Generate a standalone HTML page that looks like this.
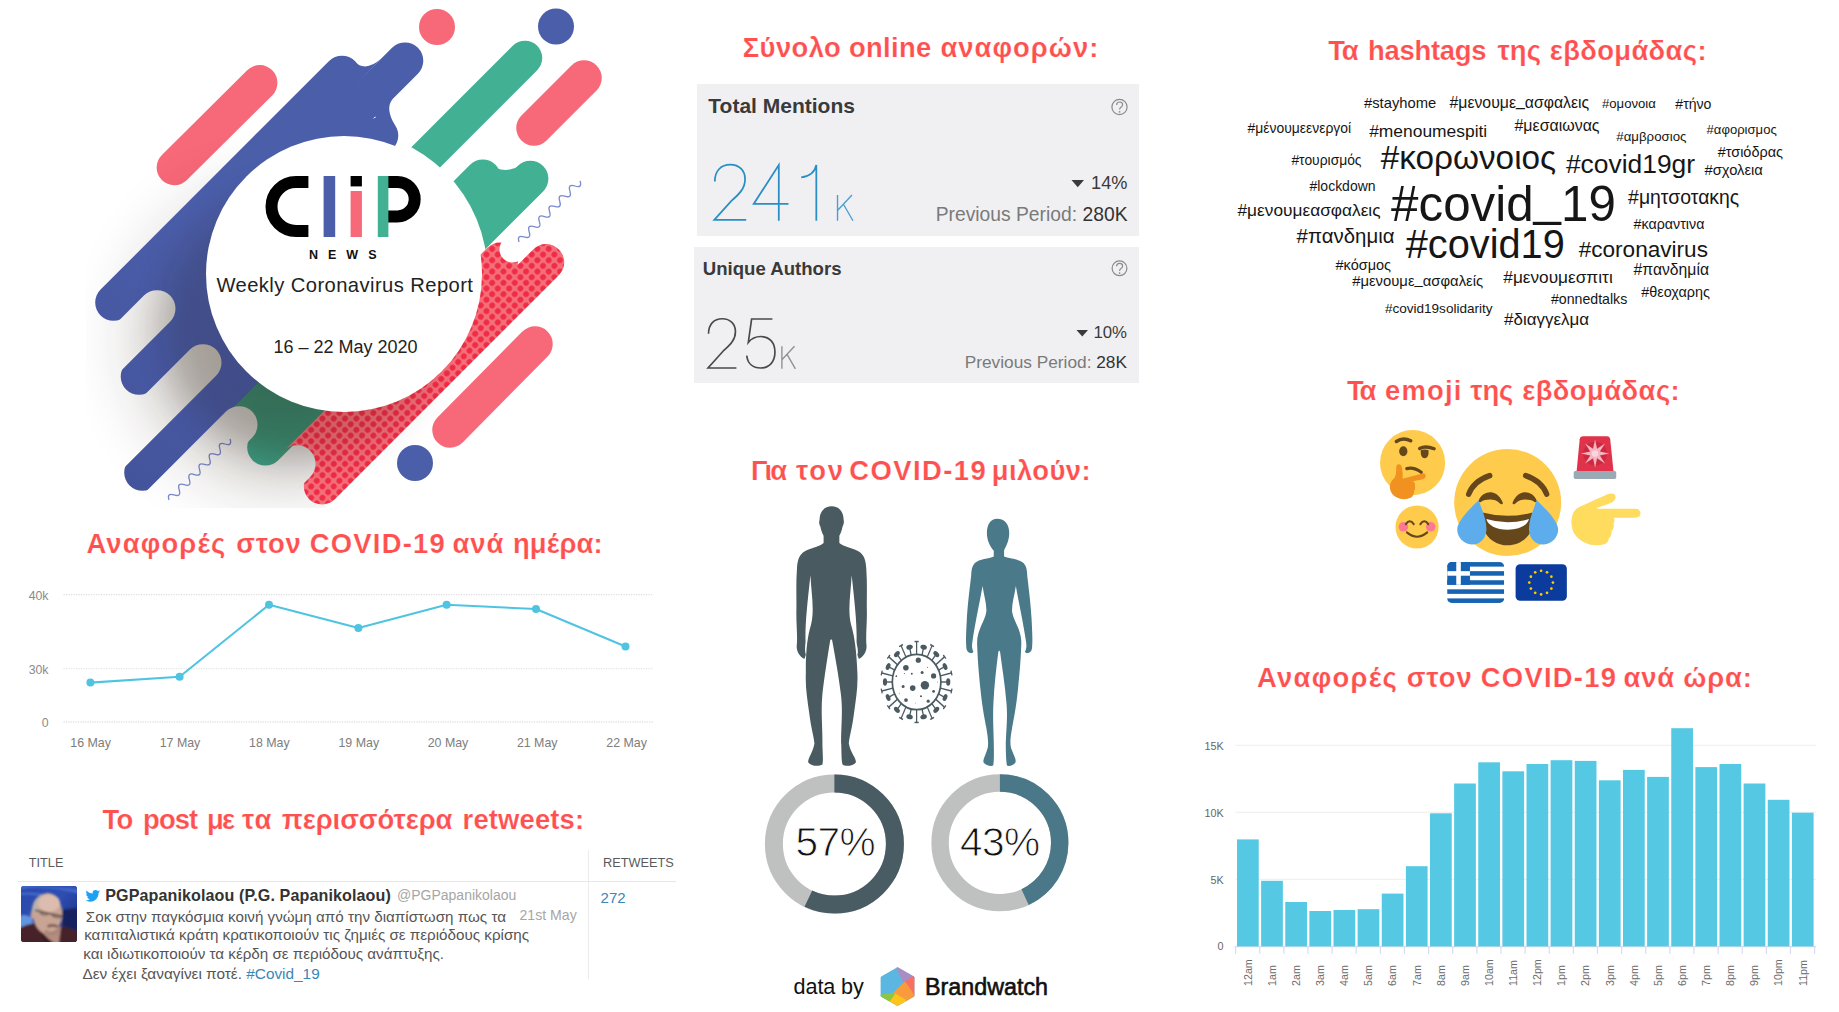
<!DOCTYPE html>
<html lang="el">
<head>
<meta charset="utf-8">
<title>CLiP News – Weekly Coronavirus Report</title>
<style>
html,body{margin:0;padding:0;background:#fff;height:100%;}
body{width:1839px;height:1012px;overflow:hidden;font-family:"Liberation Sans",sans-serif;}
#page{position:absolute;left:0;top:0;width:1839px;height:1012px;overflow:hidden;background:#fff;}
#page *{box-sizing:border-box;}
.abs{position:absolute;}
.hd{position:absolute;white-space:nowrap;font-weight:bold;color:#ff5050;-webkit-text-stroke:0.18px #fff;font-size:27.4px;line-height:31px;}
.tg{position:absolute;white-space:nowrap;color:#161616;line-height:1.149;}
.tw{font-size:15.2px;line-height:18px;color:#555;white-space:nowrap;}
.pct{font-size:40.6px;line-height:46px;color:#111;white-space:nowrap;letter-spacing:-0.6px;-webkit-text-stroke:0.9px #fff;}
svg{position:absolute;left:0;top:0;overflow:visible;}
svg text{font-family:"Liberation Sans",sans-serif;}
</style>
</head>
<body>
<div id="page">
<svg id="art" width="700" height="520" viewBox="0 0 700 520">
<defs>
<pattern id="dots" width="8" height="8" patternUnits="userSpaceOnUse" patternTransform="rotate(45)">
<rect width="8" height="8" fill="#f56f7a"/>
<circle cx="4" cy="4" r="2.9" fill="#ef2b45"/>
</pattern>
<filter id="blur12" x="-30%" y="-30%" width="160%" height="160%"><feGaussianBlur stdDeviation="15"/></filter>
<filter id="blur45" filterUnits="userSpaceOnUse" x="-100" y="-100" width="900" height="800"><feGaussianBlur stdDeviation="38"/></filter>
<filter id="blur6b" filterUnits="userSpaceOnUse" x="0" y="0" width="700" height="700"><feGaussianBlur stdDeviation="16"/></filter>
<filter id="blur6" x="-30%" y="-30%" width="160%" height="160%"><feGaussianBlur stdDeviation="7"/></filter>
<linearGradient id="bl" gradientUnits="userSpaceOnUse" x1="120" y1="480" x2="420" y2="60"><stop offset="0" stop-color="#44549c"/><stop offset="0.5" stop-color="#4b5eaa"/><stop offset="1" stop-color="#4b5eaa"/></linearGradient>
<linearGradient id="gapg" gradientUnits="userSpaceOnUse" x1="110" y1="400" x2="200" y2="310"><stop offset="0" stop-color="#ffffff"/><stop offset="1" stop-color="#cfc9c2"/></linearGradient>
<g id="bluebody" stroke-width="36.6" stroke-linecap="round" fill="none">
<path d="M113.5 302.5 L342 74"/>
<path d="M150 315.7 L405 60.7"/>
<path d="M139 376.5 L380 135.5"/>
<path d="M196 369.7 L375 190.3"/>
<path d="M142.5 472.5 L395 220"/>
</g>
<mask id="gapmask" maskUnits="userSpaceOnUse" x="0" y="0" width="700" height="520">
<rect x="0" y="0" width="700" height="520" fill="#fff"/>
<g stroke="#000" stroke-width="37" stroke-linecap="round" fill="none">
<path d="M157 308.7 L60 405.7"/>
<path d="M203 362.7 L100 465.7"/>
<path d="M239 424.7 L140 523.7"/>
</g>
</mask>
<radialGradient id="rsh" gradientUnits="userSpaceOnUse" cx="310" cy="310" r="262">
<stop offset="0" stop-color="#140c02" stop-opacity="0.38"/>
<stop offset="0.34" stop-color="#140c02" stop-opacity="0.36"/>
<stop offset="0.41" stop-color="#140c02" stop-opacity="0.27"/>
<stop offset="0.54" stop-color="#140c02" stop-opacity="0.14"/>
<stop offset="0.72" stop-color="#140c02" stop-opacity="0.08"/>
<stop offset="0.88" stop-color="#140c02" stop-opacity="0.035"/>
<stop offset="1" stop-color="#140c02" stop-opacity="0"/>
</radialGradient>
<mask id="redmask" maskUnits="userSpaceOnUse" x="0" y="0" width="700" height="520">
<rect x="0" y="0" width="700" height="520" fill="#fff"/>
<path d="M297 463.8 L200 560.8" stroke="#000" stroke-width="37.2" stroke-linecap="round" fill="none"/>
</mask>
<clipPath id="shclip"><path d="M0 0 L832 0 L0 832 Z"/></clipPath>
<clipPath id="artclip"><rect x="86" y="0" width="614" height="508"/></clipPath>
</defs>
<g clip-path="url(#artclip)">
<!-- pink pills and dots -->
<g stroke="#f76878" stroke-width="35.5" stroke-linecap="round" fill="none">
<path d="M174.4 167.5 L259.7 82.8"/>
<path d="M534 128 L584 78"/>
<path d="M450 430 L535 344"/>
</g>
<circle cx="437" cy="27" r="18" fill="#f76878"/>
<circle cx="556" cy="26.5" r="18" fill="#4b5eaa"/>
<circle cx="415" cy="463" r="18" fill="#4b5eaa"/>
<!-- green (upper right) -->
<g stroke="#41b093" stroke-width="34.5" stroke-linecap="round" fill="none">
<path d="M525 58 L400 183"/>
</g>
<g stroke="#41b093" stroke-width="36" stroke-linecap="round" fill="none">
<path d="M482.8 177.4 L300 360.2"/>
<path d="M530.4 178.7 L300 409.1"/>
</g>
<path d="M487 163 Q504 176 521 165 L507 194 L492 189Z" fill="#41b093"/>
<!-- gap ring -->
<circle cx="344" cy="274" r="143.5" fill="#fff"/>
<!-- green lower -->
<g mask="url(#gapmask)">
<g stroke="#41b093" stroke-width="36.4" stroke-linecap="round" fill="none">
<path d="M265.4 447.4 L380 332.8"/>
<path d="M232 431.7 L380 284.3"/>
</g>
</g>
<!-- squiggle BL -->
<g fill="none" stroke="#7c8bd0" stroke-width="1.3">
<path d="M0 0 q3.6 -7 7.2 0 t7.2 0 t7.2 0 t7.2 0 t7.2 0 t7.2 0 t7.2 0 t7.2 0 t7.2 0 t7.2 0 t7.2 0 t7.2 0" transform="translate(169,500) rotate(-45)"/>
</g>
<!-- shadow -->
<g clip-path="url(#shclip)"><circle cx="284" cy="338" r="138" fill="#2a1c0c" opacity="0.31" filter="url(#blur45)"/></g>
<!-- red dotted -->
<g mask="url(#redmask)">
<g stroke="url(#dots)" stroke-width="36.4" stroke-linecap="round" fill="none">
<path d="M322 486.3 L546 262.3"/>
<path d="M285 475.8 L500 260.8"/>
</g>
</g>
<!-- red notch TR -->
<g stroke="#fff" stroke-width="26" stroke-linecap="round" fill="none">
<path d="M512.5 249.5 L540 222"/>
</g>
<!-- squiggle TR -->
<g fill="none" stroke="#7c8bd0" stroke-width="1.3">
<path d="M0 0 q3.6 -7 7.2 0 t7.2 0 t7.2 0 t7.2 0 t7.2 0 t7.2 0 t7.2 0 t7.2 0 t7.2 0 t7.2 0 t7.2 0 t7.2 0" transform="translate(519,242) rotate(-45)"/>
</g>
<!-- blue body -->
<g mask="url(#gapmask)"><use href="#bluebody" stroke="url(#bl)"/>
<path d="M352 58.7 Q364 74 381 58.8 L358.6 82 Z" fill="#4b5eaa"/>
<path d="M392.6 99 Q385 108 394.5 124.5 L380 130 L374 113 Z" fill="#4b5eaa"/>
</g>
<circle cx="300" cy="322" r="138" fill="#1a1006" opacity="0.16" filter="url(#blur6b)"/>
<!-- main circle shadow + circle -->
<circle cx="344" cy="274" r="138" fill="#fff"/>
</g>
<!-- logo -->
<g fill="none" stroke="#000" stroke-width="12">
<path d="M308.4 182 H296 A24.5 24.5 0 0 0 296 231 H308.4"/>
<path d="M388 182 H397.5 A17.2 17.2 0 0 1 397.5 216.4 H388"/>
</g>
<rect x="323.6" y="176" width="11.6" height="61" fill="#4b5eaa"/>
<rect x="350.6" y="176" width="11.3" height="10.4" fill="#000"/>
<rect x="350.6" y="191" width="11.3" height="46" fill="#f76878"/>
<rect x="377.8" y="176" width="10.6" height="61" fill="#41b093"/>
<text x="309" y="259" font-size="12.5" font-weight="bold" letter-spacing="10" fill="#111">NEWS</text>
<text x="216.4" y="292" font-size="20.2" letter-spacing="0.42" fill="#222">Weekly Coronavirus Report</text>
<text x="273.4" y="353" font-size="18" letter-spacing="0" fill="#222">16 – 22 May 2020</text>
</svg>
<span class="hd" style="left:742.7px;top:31.6px;letter-spacing:0.42px">Σύνολο</span>
<span class="hd" style="left:848.9px;top:31.6px;letter-spacing:0.36px">online</span>
<span class="hd" style="left:940.4px;top:31.6px;letter-spacing:1.03px">αναφορών:</span>
<span class="hd" style="left:1328.3px;top:35.2px;letter-spacing:-1.25px">Τα</span>
<span class="hd" style="left:1368.1px;top:35.2px;letter-spacing:-0.27px">hashtags</span>
<span class="hd" style="left:1497.6px;top:35.2px;letter-spacing:0.04px">της</span>
<span class="hd" style="left:1549.8px;top:35.2px;letter-spacing:0.36px">εβδομάδας:</span>
<span class="hd" style="left:86.4px;top:527.7px;letter-spacing:1.16px">Αναφορές</span>
<span class="hd" style="left:236.3px;top:527.7px;letter-spacing:0.77px">στον</span>
<span class="hd" style="left:309.7px;top:527.7px;letter-spacing:1.26px">COVID-19</span>
<span class="hd" style="left:452.4px;top:527.7px;letter-spacing:1.03px">ανά</span>
<span class="hd" style="left:512.9px;top:527.7px;letter-spacing:0.22px">ημέρα:</span>
<span class="hd" style="left:750.9px;top:455.1px;letter-spacing:-1.87px">Για</span>
<span class="hd" style="left:796.0px;top:455.1px;letter-spacing:1.78px">τον</span>
<span class="hd" style="left:849.2px;top:455.1px;letter-spacing:1.47px">COVID-19</span>
<span class="hd" style="left:991.7px;top:455.1px;letter-spacing:0.43px">μιλούν:</span>
<span class="hd" style="left:1346.9px;top:375.1px;letter-spacing:-2.15px">Τα</span>
<span class="hd" style="left:1385.1px;top:375.1px;letter-spacing:1.21px">emoji</span>
<span class="hd" style="left:1470.2px;top:375.1px;letter-spacing:-0.01px">της</span>
<span class="hd" style="left:1522.2px;top:375.1px;letter-spacing:0.45px">εβδομάδας:</span>
<span class="hd" style="left:1257.0px;top:662.1px;letter-spacing:1.29px">Αναφορές</span>
<span class="hd" style="left:1406.7px;top:662.1px;letter-spacing:0.94px">στον</span>
<span class="hd" style="left:1480.8px;top:662.1px;letter-spacing:1.25px">COVID-19</span>
<span class="hd" style="left:1623.6px;top:662.1px;letter-spacing:0.78px">ανά</span>
<span class="hd" style="left:1683.2px;top:662.1px;letter-spacing:0.84px">ώρα:</span>
<span class="hd" style="left:102.4px;top:804.4px;letter-spacing:-0.64px">Το</span>
<span class="hd" style="left:143.1px;top:804.4px;letter-spacing:-0.91px">post</span>
<span class="hd" style="left:207.0px;top:804.4px;letter-spacing:-1.87px">με</span>
<span class="hd" style="left:242.1px;top:804.4px;letter-spacing:0.89px">τα</span>
<span class="hd" style="left:281.8px;top:804.4px;letter-spacing:-0.04px">περισσότερα</span>
<span class="hd" style="left:462.6px;top:804.4px;letter-spacing:0.16px">retweets:</span>
<div class="abs" style="left:697px;top:84.3px;width:441.7px;height:151.3px;background:#f0f0f2;"></div>
<div class="abs" style="left:694.3px;top:246.5px;width:444.5px;height:136.8px;background:#f0f0f2;"></div>
<div class="abs" style="left:708.3px;top:94px;font-size:21px;line-height:24px;font-weight:bold;color:#3a3a3a;white-space:nowrap;">Total Mentions</div>
<div class="abs" style="left:702.8px;top:257.5px;font-size:18.6px;line-height:22px;font-weight:bold;color:#3a3a3a;white-space:nowrap;">Unique Authors</div>
<div class="abs" style="right:711.5px;top:172.2px;font-size:18.2px;line-height:22px;color:#3a3a3a;white-space:nowrap;">14%</div>
<div class="abs" style="right:711.5px;top:204.2px;font-size:19.3px;line-height:22px;color:#7a7a7a;white-space:nowrap;">Previous Period: <span style="color:#333">280K</span></div>
<div class="abs" style="right:712px;top:322.5px;font-size:16.8px;line-height:20px;color:#3a3a3a;white-space:nowrap;">10%</div>
<div class="abs" style="right:712px;top:352.3px;font-size:17.3px;line-height:20px;color:#7a7a7a;white-space:nowrap;">Previous Period: <span style="color:#333">28K</span></div>
<svg width="1839" height="1012" viewBox="0 0 1839 1012">
<!-- arrows -->
<path d="M1071.5 180 h12.5 l-6.25 7.2z" fill="#3a3a3a"/>
<path d="M1076.5 330 h11.5 l-5.75 6.6z" fill="#3a3a3a"/>
<!-- help icons -->
<g fill="none" stroke="#8a8a8a" stroke-width="1.2">
<circle cx="1119.5" cy="107" r="7.6"/><circle cx="1119.5" cy="268.3" r="7.4"/>
<path d="M1116.6 105 q0 -3 3 -3 q3 0 3 2.6 q0 1.6 -1.6 2.6 q-1.4 0.9 -1.4 2.4"/>
<path d="M1116.6 266.3 q0 -3 3 -3 q3 0 3 2.6 q0 1.6 -1.6 2.6 q-1.4 0.9 -1.4 2.4"/>
</g>
<circle cx="1119.6" cy="111.8" r="0.9" fill="#8a8a8a"/><circle cx="1119.6" cy="273.1" r="0.9" fill="#8a8a8a"/>
<!-- thin numerals: unit glyphs drawn in 0..100 height box -->
<defs>
<path id="g2" d="M5 31 C5 12 16 1.5 32 1.5 C48 1.5 58 12 58 27 C58 43 48 53 34 65 L4 98.5 H60"/>
<path id="g4" d="M47 100 V2 L3 70.5 H64"/>
<path id="g1" d="M3 24 C18 22 27 15 29.5 2 V100"/>
<path id="g5" d="M55 2 H14 L7.5 48 C14 40 22 36.5 32 36.5 C50 36.5 60 49 60 67 C60 86 49 98.5 32 98.5 C16 98.5 6 89 4.5 74"/>
<path id="gK" d="M4 0 V100 M60 0 L4 60 M27 36 L64 100"/>
</defs>
<g fill="none" stroke="#2a8ec6" stroke-width="3.1">
<use href="#g2" transform="translate(712,163.8) scale(0.57)"/>
<use href="#g4" transform="translate(752,163.8) scale(0.57)"/>
<use href="#g1" transform="translate(799.5,163.8) scale(0.57)"/>
</g>
<g fill="none" stroke="#4a9fd0" stroke-width="5.4">
<use href="#gK" transform="translate(836.5,195) scale(0.2575)"/>
</g>
<g fill="none" stroke="#4a4a4a" stroke-width="3.3">
<use href="#g2" transform="translate(706,318) scale(0.5075)"/>
<use href="#g5" transform="translate(744.5,318) scale(0.5075)"/>
</g>
<g fill="none" stroke="#8f8f8f" stroke-width="6">
<use href="#gK" transform="translate(781,346.3) scale(0.225)"/>
</g>
</svg>
<svg width="700" height="780" viewBox="0 0 700 780">
<g stroke="#dcdcdc" stroke-width="1.1" stroke-dasharray="1.2 1.3" fill="none">
<path d="M63.5 594.6 H653"/><path d="M63.5 668.7 H653"/>
</g>
<path d="M63.5 722 H653" stroke="#cfd2de" stroke-width="1.2" stroke-dasharray="1.2 1.2" fill="none"/>
<g font-size="12.3" fill="#8a8a8a" text-anchor="end">
<text x="48.5" y="599.6">40k</text><text x="48.5" y="673.6">30k</text><text x="48.5" y="726.8">0</text>
</g>
<polyline points="90.4,682.6 179.6,676.7 269,604.8 358.4,628 446.6,604.8 536,609 625.5,646.5" fill="none" stroke="#4fc4e1" stroke-width="2.1" stroke-linejoin="round"/>
<g fill="#4fc4e1">
<circle cx="90.4" cy="682.6" r="4"/><circle cx="179.6" cy="676.7" r="4"/><circle cx="269" cy="604.8" r="4"/><circle cx="358.4" cy="628" r="4"/><circle cx="446.6" cy="604.8" r="4"/><circle cx="536" cy="609" r="4"/><circle cx="625.5" cy="646.5" r="4"/>
</g>
<g font-size="12.4" fill="#7d7d7d" text-anchor="middle">
<text x="90.6" y="746.8">16 May</text><text x="180" y="746.8">17 May</text><text x="269.4" y="746.8">18 May</text><text x="358.8" y="746.8">19 May</text><text x="448" y="746.8">20 May</text><text x="537.2" y="746.8">21 May</text><text x="626.6" y="746.8">22 May</text>
</g>
</svg>
<div class="abs" style="left:17.5px;top:880.5px;width:658.5px;height:1.1px;background:#e6e6e6;"></div>
<div class="abs" style="left:588px;top:850px;width:1.1px;height:129px;background:#ececec;"></div>
<div class="abs" style="left:28.8px;top:855.6px;font-size:12.7px;line-height:14px;color:#5a5a5a;white-space:nowrap;">TITLE</div>
<div class="abs" style="left:603px;top:855.6px;font-size:12.75px;line-height:14px;color:#5a5a5a;white-space:nowrap;">RETWEETS</div>
<div class="abs" style="left:600.6px;top:888.5px;font-size:15px;line-height:17px;color:#3b86b4;white-space:nowrap;">272</div>
<!-- avatar -->
<div class="abs" style="left:21.3px;top:886px;width:56px;height:56px;border-radius:3px;overflow:hidden;background:#2f4f9e;">
<svg width="56" height="56" viewBox="0 0 56 56">
<defs><filter id="avb" x="-20%" y="-20%" width="140%" height="140%"><feGaussianBlur stdDeviation="1.1"/></filter>
<linearGradient id="avbg" x1="0" y1="0" x2="1" y2="1"><stop offset="0" stop-color="#2a49ad"/><stop offset="0.45" stop-color="#2d4db2"/><stop offset="1" stop-color="#172a74"/></linearGradient></defs>
<rect width="56" height="56" fill="url(#avbg)"/>
<g filter="url(#avb)">
<path d="M-2 4 Q20 -2 58 8 L58 3 L-2 -2Z" fill="#4c72d2" opacity="0.7"/>
<path d="M-2 8 Q14 6 30 11" stroke="#5a80dc" stroke-width="2" fill="none" opacity="0.7"/>
<ellipse cx="3" cy="36" rx="9" ry="7" fill="#6aa2ea" opacity="0.85"/>
<path d="M40 24 L58 22 L58 46 L42 42Z" fill="#15235f"/>
<path d="M-2 58 V42 Q6 38 14 37 L20 40 L36 56 L40 40 Q50 42 58 46 V58Z" fill="#47212a"/>
<path d="M14 37 L20 39 L33 57 L24 57Z" fill="#3a1a20"/>
<path d="M17 38 Q22 50 33 57 L38 57 L40 40 Q30 46 17 38Z" fill="#b48c80"/>
<ellipse cx="26.6" cy="27.5" rx="14.6" ry="20.5" fill="#c9a494"/>
<ellipse cx="28" cy="17" rx="11" ry="9" fill="#dcbcae"/>
<path d="M10.5 30 Q10 12 22 8 Q16 14 17 24 L13.5 31Z" fill="#b9b1ab"/>
<ellipse cx="11.8" cy="29" rx="2.2" ry="4" fill="#c8a093"/>
<path d="M14 24.3 L27 27.2 L42.5 30.6" stroke="#4d4340" stroke-width="1.5" fill="none"/>
<path d="M19 27 q4 3 8 1 M31 29.5 q4 3 9 1.5" stroke="#7a6660" stroke-width="1.6" fill="none"/>
<path d="M26.5 40.5 Q32 38 37 41" stroke="#7b5852" stroke-width="2.6" fill="none"/>
<path d="M24 45 Q31 50 37 44" stroke="#a98377" stroke-width="3" fill="none"/>
</g>
</svg>
</div>
<!-- twitter bird -->
<svg width="700" height="1012" viewBox="0 0 700 1012">
<path transform="translate(85.6,888.6) scale(0.60)" fill="#1da1f2" d="M23.954 4.569c-.885.389-1.83.654-2.825.775 1.014-.611 1.794-1.574 2.163-2.723-.951.555-2.005.959-3.127 1.184-.896-.959-2.173-1.559-3.591-1.559-2.717 0-4.92 2.203-4.92 4.917 0 .39.045.765.127 1.124C7.691 8.094 4.066 6.13 1.64 3.161c-.427.722-.666 1.561-.666 2.475 0 1.71.87 3.213 2.188 4.096-.807-.026-1.566-.248-2.228-.616v.061c0 2.385 1.693 4.374 3.946 4.827-.413.111-.849.171-1.296.171-.314 0-.615-.03-.916-.086.631 1.953 2.445 3.377 4.604 3.417-1.68 1.319-3.809 2.105-6.102 2.105-.39 0-.779-.023-1.17-.067 2.189 1.394 4.768 2.209 7.557 2.209 9.054 0 13.999-7.496 13.999-13.986 0-.209 0-.42-.015-.63.961-.689 1.8-1.56 2.46-2.548l-.047-.02z"/>
</svg>
<div class="abs" style="left:105.2px;top:886.1px;font-size:16.1px;line-height:18px;font-weight:bold;color:#333;white-space:nowrap;letter-spacing:0.1px;">PGPapanikolaou (P.G. Papanikolaou)</div>
<div class="abs" style="left:397px;top:887.3px;font-size:14px;line-height:17px;color:#a6a6a6;white-space:nowrap;">@PGPapanikolaou</div>
<div class="abs" style="left:519.5px;top:907.4px;font-size:14.1px;line-height:17px;color:#a6a6a6;white-space:nowrap;">21st May</div>
<div class="abs tw" style="left:85.8px;top:907.6px;">Σοκ στην παγκόσμια κοινή γνώμη από την διαπίστωση πως τα</div>
<div class="abs tw" style="left:84.2px;top:926.2px;">καπιταλιστικά κράτη κρατικοποιούν τις ζημιές σε περιόδους κρίσης</div>
<div class="abs tw" style="left:83.3px;top:945.3px;">και ιδιωτικοποιούν τα κέρδη σε περιόδους ανάπτυξης.</div>
<div class="abs tw" style="left:82.4px;top:965.1px;font-size:15.36px;">Δεν έχει ξαναγίνει ποτέ. <span style="color:#3b86b4">#Covid_19</span></div>
<svg width="1839" height="1012" viewBox="0 0 1839 1012">
<g transform="translate(760,490) scale(0.28648)">
<path fill="#495a61" d="M250 57 C275 57 292 75 292 105 C294 112 292 122 288 128 C286 140 282 150 277 160 L277 185 C295 200 330 203 350 218 C365 230 370 250 371 275 C375 330 372 380 373 420 C374 470 368 510 372 545 C372 565 362 580 345 590 L340 575 C345 560 338 545 337 530 C339 470 331 400 320 298 C317 360 305 420 318 470 C330 510 337 560 340 640 C342 690 335 730 328 780 C322 830 312 860 310 885 C315 915 335 935 335 950 C325 965 295 965 288 958 C283 940 285 900 283 880 C283 820 290 770 282 710 C275 650 262 580 252 525 L248 520 L245 525 C236 580 225 650 218 710 C212 770 218 820 218 880 C217 900 222 940 218 958 C205 965 180 965 168 950 C168 935 185 915 190 885 C188 860 178 830 172 780 C165 730 158 690 160 640 C159 560 166 510 178 470 C191 420 179 360 176 298 C165 400 157 470 159 530 C158 545 155 560 160 575 L155 590 C138 580 128 565 128 545 C132 510 126 470 127 420 C128 380 125 330 129 275 C130 250 135 230 150 218 C170 203 205 200 222 185 L222 160 C217 150 213 140 211 128 C207 122 205 112 208 105 C208 75 225 57 250 57 Z"/>
<path fill="#4a7989" d="M828 100 C855 100 870 120 870 150 C870 175 860 195 852 210 L852 232 C870 240 905 240 920 255 C930 265 932 280 933 300 C940 360 945 400 948 450 C950 490 952 520 950 545 C950 560 945 568 930 570 L925 565 C932 550 930 540 928 525 C920 470 905 400 893 335 C888 370 878 400 880 425 C885 460 915 490 912 540 C910 600 905 650 900 700 C895 750 888 790 880 830 C875 860 872 880 876 900 C885 925 895 940 892 950 C885 962 870 965 862 962 C858 940 858 900 858 880 C860 830 865 790 860 740 C855 680 845 620 838 565 L835 560 L832 565 C825 620 818 680 815 740 C812 790 815 830 816 880 C816 900 818 940 814 962 C805 965 788 962 780 950 C778 940 788 925 795 900 C798 880 795 860 790 830 C782 790 775 750 770 700 C765 650 760 600 758 540 C755 490 785 460 790 425 C792 400 782 370 777 335 C765 400 750 470 742 525 C740 540 738 550 745 565 L740 570 C725 568 720 560 720 545 C718 520 720 490 722 450 C725 400 730 360 737 300 C738 280 740 265 750 255 C765 240 800 240 816 232 L816 212 C802 195 792 175 792 150 C792 120 805 100 828 100 Z"/>
</g>
<!-- virus -->
<g transform="translate(916.6,682)" stroke="#495a61" fill="#495a61">
<ellipse rx="24.3" ry="27.7" fill="none" stroke-width="1.7"/>
<g transform="scale(1,1.13)">
<g transform="rotate(0.00)"><path d="M0 -24.3 V-35.6" fill="none" stroke-width="1.25"/><path d="M-2.1 -35.8 h4.2" fill="none" stroke-width="1.3"/></g>
<g transform="rotate(12.86)"><path d="M0 -24.3 V-30.2" fill="none" stroke-width="1.25"/><ellipse cx="0" cy="-31.6" rx="3.3" ry="2.1" stroke="none"/></g>
<g transform="rotate(25.71)"><path d="M0 -24.3 V-35.6" fill="none" stroke-width="1.25"/><path d="M-2.1 -35.8 h4.2" fill="none" stroke-width="1.3"/></g>
<g transform="rotate(38.57)"><path d="M0 -24.3 V-30.2" fill="none" stroke-width="1.25"/><ellipse cx="0" cy="-31.6" rx="3.3" ry="2.1" stroke="none"/></g>
<g transform="rotate(51.43)"><path d="M0 -24.3 V-35.6" fill="none" stroke-width="1.25"/><path d="M-2.1 -35.8 h4.2" fill="none" stroke-width="1.3"/></g>
<g transform="rotate(64.29)"><path d="M0 -24.3 V-30.2" fill="none" stroke-width="1.25"/><ellipse cx="0" cy="-31.6" rx="3.3" ry="2.1" stroke="none"/></g>
<g transform="rotate(77.14)"><path d="M0 -24.3 V-35.6" fill="none" stroke-width="1.25"/><path d="M-2.1 -35.8 h4.2" fill="none" stroke-width="1.3"/></g>
<g transform="rotate(90.00)"><path d="M0 -24.3 V-30.2" fill="none" stroke-width="1.25"/><ellipse cx="0" cy="-31.6" rx="3.3" ry="2.1" stroke="none"/></g>
<g transform="rotate(102.86)"><path d="M0 -24.3 V-35.6" fill="none" stroke-width="1.25"/><path d="M-2.1 -35.8 h4.2" fill="none" stroke-width="1.3"/></g>
<g transform="rotate(115.71)"><path d="M0 -24.3 V-30.2" fill="none" stroke-width="1.25"/><ellipse cx="0" cy="-31.6" rx="3.3" ry="2.1" stroke="none"/></g>
<g transform="rotate(128.57)"><path d="M0 -24.3 V-35.6" fill="none" stroke-width="1.25"/><path d="M-2.1 -35.8 h4.2" fill="none" stroke-width="1.3"/></g>
<g transform="rotate(141.43)"><path d="M0 -24.3 V-30.2" fill="none" stroke-width="1.25"/><ellipse cx="0" cy="-31.6" rx="3.3" ry="2.1" stroke="none"/></g>
<g transform="rotate(154.29)"><path d="M0 -24.3 V-35.6" fill="none" stroke-width="1.25"/><path d="M-2.1 -35.8 h4.2" fill="none" stroke-width="1.3"/></g>
<g transform="rotate(167.14)"><path d="M0 -24.3 V-30.2" fill="none" stroke-width="1.25"/><ellipse cx="0" cy="-31.6" rx="3.3" ry="2.1" stroke="none"/></g>
<g transform="rotate(180.00)"><path d="M0 -24.3 V-35.6" fill="none" stroke-width="1.25"/><path d="M-2.1 -35.8 h4.2" fill="none" stroke-width="1.3"/></g>
<g transform="rotate(192.86)"><path d="M0 -24.3 V-30.2" fill="none" stroke-width="1.25"/><ellipse cx="0" cy="-31.6" rx="3.3" ry="2.1" stroke="none"/></g>
<g transform="rotate(205.71)"><path d="M0 -24.3 V-35.6" fill="none" stroke-width="1.25"/><path d="M-2.1 -35.8 h4.2" fill="none" stroke-width="1.3"/></g>
<g transform="rotate(218.57)"><path d="M0 -24.3 V-30.2" fill="none" stroke-width="1.25"/><ellipse cx="0" cy="-31.6" rx="3.3" ry="2.1" stroke="none"/></g>
<g transform="rotate(231.43)"><path d="M0 -24.3 V-35.6" fill="none" stroke-width="1.25"/><path d="M-2.1 -35.8 h4.2" fill="none" stroke-width="1.3"/></g>
<g transform="rotate(244.29)"><path d="M0 -24.3 V-30.2" fill="none" stroke-width="1.25"/><ellipse cx="0" cy="-31.6" rx="3.3" ry="2.1" stroke="none"/></g>
<g transform="rotate(257.14)"><path d="M0 -24.3 V-35.6" fill="none" stroke-width="1.25"/><path d="M-2.1 -35.8 h4.2" fill="none" stroke-width="1.3"/></g>
<g transform="rotate(270.00)"><path d="M0 -24.3 V-30.2" fill="none" stroke-width="1.25"/><ellipse cx="0" cy="-31.6" rx="3.3" ry="2.1" stroke="none"/></g>
<g transform="rotate(282.86)"><path d="M0 -24.3 V-35.6" fill="none" stroke-width="1.25"/><path d="M-2.1 -35.8 h4.2" fill="none" stroke-width="1.3"/></g>
<g transform="rotate(295.71)"><path d="M0 -24.3 V-30.2" fill="none" stroke-width="1.25"/><ellipse cx="0" cy="-31.6" rx="3.3" ry="2.1" stroke="none"/></g>
<g transform="rotate(308.57)"><path d="M0 -24.3 V-35.6" fill="none" stroke-width="1.25"/><path d="M-2.1 -35.8 h4.2" fill="none" stroke-width="1.3"/></g>
<g transform="rotate(321.43)"><path d="M0 -24.3 V-30.2" fill="none" stroke-width="1.25"/><ellipse cx="0" cy="-31.6" rx="3.3" ry="2.1" stroke="none"/></g>
<g transform="rotate(334.29)"><path d="M0 -24.3 V-35.6" fill="none" stroke-width="1.25"/><path d="M-2.1 -35.8 h4.2" fill="none" stroke-width="1.3"/></g>
<g transform="rotate(347.14)"><path d="M0 -24.3 V-30.2" fill="none" stroke-width="1.25"/><ellipse cx="0" cy="-31.6" rx="3.3" ry="2.1" stroke="none"/></g>
</g>
<g stroke="none"><circle cx="8.3" cy="3.3" r="4.2"/><circle cx="-3.9" cy="6.1" r="2.8"/><circle cx="-10.7" cy="-14.3" r="2.8"/><circle cx="1.7" cy="-21.8" r="2.6"/><circle cx="17" cy="-6.1" r="2.6"/><circle cx="5.5" cy="-9.4" r="1.5"/><circle cx="-4.8" cy="-8.3" r="0.95"/><circle cx="-13.5" cy="4.4" r="1.5"/><circle cx="-10.6" cy="18.1" r="1.9"/><circle cx="4.4" cy="14.3" r="1.0"/><circle cx="11.6" cy="19.2" r="1.6"/><circle cx="17" cy="9.4" r="1.4"/><circle cx="-20.3" cy="-5.8" r="0.85"/><circle cx="10.9" cy="-14.7" r="0.5"/><circle cx="-1" cy="21.1" r="0.45"/><circle cx="-12.2" cy="-8.6" r="0.5"/><circle cx="20.8" cy="0" r="0.45"/><circle cx="-17.3" cy="11.3" r="0.45"/></g>
</g>
</svg>
<svg width="1839" height="1012" viewBox="0 0 1839 1012">
<g fill="none" stroke-width="18">
<circle cx="834.4" cy="844" r="60.5" stroke="#bfc1c0"/>
<circle cx="834.4" cy="844" r="60.5" stroke="#495c63" stroke-dasharray="216.68 380.13" transform="rotate(-90 834.4 844)"/>
</g>
<g fill="none" stroke-width="17.4">
<circle cx="999.9" cy="842.8" r="59.8" stroke="#bfc1c0"/>
<circle cx="999.9" cy="842.8" r="59.8" stroke="#4a7888" stroke-dasharray="161.57 375.74" transform="rotate(-90 999.9 842.8)"/>
</g>
</svg>
<div class="abs pct" style="left:795.5px;top:818.6px;">57%</div>
<div class="abs pct" style="left:960px;top:818.6px;">43%</div>
<div class="abs" style="left:793.6px;top:974.1px;font-size:21.6px;line-height:26px;color:#111;white-space:nowrap;letter-spacing:-0.1px;">data by</div>
<div class="abs" style="left:925px;top:974.3px;font-size:23.3px;line-height:26px;color:#111;white-space:nowrap;letter-spacing:0px;-webkit-text-stroke:0.6px #111;">Brandwatch</div>
<svg width="1839" height="1012" viewBox="0 0 1839 1012">
<g transform="translate(897.5,986.6) scale(0.915)">
<!-- hexagon pointy-top: R=19.6 ; vertices -->
<path d="M0 -19.8 L17.2 -9.9 L17.2 9.9 L0 19.8 L-17.2 9.9 L-17.2 -9.9 Z" fill="#5bb7e2" stroke="#5bb7e2" stroke-width="2.5" stroke-linejoin="round"/>
<path d="M0 -19.8 L17.2 -9.9 L8 -4 Z" fill="#a98dc3" stroke="#a98dc3" stroke-width="2.5" stroke-linejoin="round"/>
<path d="M17.2 -9.9 L17.2 9.9 L8 -4 Z" fill="#f8705f" stroke="#f8705f" stroke-width="2.5" stroke-linejoin="round"/>
<path d="M8 -4 L17.2 9.9 L8 15.2 L-4 8 Z" fill="#f99b3d" stroke="#f99b3d" stroke-width="2.5" stroke-linejoin="round"/>
<path d="M-4 8 L8 15.2 L0 19.8 L-9 14.6 Z" fill="#fdc51b" stroke="#fdc51b" stroke-width="2.5" stroke-linejoin="round"/>
<path d="M-17.2 9.9 L-4 8 L-9 14.6 Z" fill="#8dc740" stroke="#8dc740" stroke-width="2.5" stroke-linejoin="round"/>
</g>
</svg>
<div id="tags">
<span class="tg" style="left:1364.0px;top:95.0px;font-size:14.77px">#stayhome</span>
<span class="tg" style="left:1449.5px;top:94.1px;font-size:15.82px">#μενουμε<span style="position:relative;top:-0.12em">_</span>ασφαλεις</span>
<span class="tg" style="left:1602.0px;top:95.8px;font-size:13.13px">#ομονοια</span>
<span class="tg" style="left:1675.3px;top:95.7px;font-size:14.10px">#τήνο</span>
<span class="tg" style="left:1247.6px;top:121.2px;font-size:13.91px">#μένουμεενεργοί</span>
<span class="tg" style="left:1369.2px;top:120.8px;font-size:17.42px">#menoumespiti</span>
<span class="tg" style="left:1514.5px;top:116.9px;font-size:15.95px">#μεσαιωνας</span>
<span class="tg" style="left:1616.3px;top:128.7px;font-size:13.27px">#αμβροσιος</span>
<span class="tg" style="left:1706.6px;top:121.9px;font-size:13.09px">#αφορισμος</span>
<span class="tg" style="left:1291.4px;top:152.5px;font-size:13.86px">#τουρισμός</span>
<span class="tg" style="left:1380.7px;top:139.1px;font-size:33.32px">#κορωνοιος</span>
<span class="tg" style="left:1565.9px;top:148.6px;font-size:26.42px">#covid19gr</span>
<span class="tg" style="left:1717.7px;top:144.0px;font-size:14.46px">#τσιόδρας</span>
<span class="tg" style="left:1704.5px;top:162.4px;font-size:14.76px">#σχολεια</span>
<span class="tg" style="left:1309.5px;top:177.8px;font-size:13.97px">#lockdown</span>
<span class="tg" style="left:1391.1px;top:176.1px;font-size:49.31px">#covid<span style="position:relative;top:-0.12em">_</span>19</span>
<span class="tg" style="left:1628.1px;top:186.2px;font-size:19.42px">#μητσοτακης</span>
<span class="tg" style="left:1237.5px;top:201.1px;font-size:17.30px">#μενουμεασφαλεις</span>
<span class="tg" style="left:1633.6px;top:216.2px;font-size:14.28px">#καραντινα</span>
<span class="tg" style="left:1296.6px;top:224.7px;font-size:20.42px">#πανδημια</span>
<span class="tg" style="left:1405.7px;top:222.4px;font-size:39.76px">#covid19</span>
<span class="tg" style="left:1578.7px;top:236.7px;font-size:22.58px">#coronavirus</span>
<span class="tg" style="left:1335.5px;top:256.9px;font-size:14.51px">#κόσμος</span>
<span class="tg" style="left:1352.2px;top:272.5px;font-size:14.83px">#μενουμε<span style="position:relative;top:-0.12em">_</span>ασφαλείς</span>
<span class="tg" style="left:1503.3px;top:267.6px;font-size:17.24px">#μενουμεσπιτι</span>
<span class="tg" style="left:1633.6px;top:260.8px;font-size:15.71px">#πανδημία</span>
<span class="tg" style="left:1641.3px;top:284.0px;font-size:14.42px">#θεοχαρης</span>
<span class="tg" style="left:1550.9px;top:291.4px;font-size:14.17px">#onnedtalks</span>
<span class="tg" style="left:1384.9px;top:300.6px;font-size:13.55px">#covid19solidarity</span>
<span class="tg" style="left:1504.0px;top:309.5px;font-size:16.98px">#διαγγελμα</span>
</div>
<svg width="1839" height="1012" viewBox="0 0 1839 1012">
<!-- coordinates drawn in zoom space (4.82x, origin 1360,410) -->
<g transform="translate(1360,410) scale(0.20747)">
<!-- thinking face -->
<circle cx="253.5" cy="254" r="157" fill="#ffcb4c"/>
<g transform="translate(72.3,72.3) scale(0.381)">
<g fill="none" stroke="#65471b" stroke-linecap="round">
<path d="M270 208 Q355 150 452 200" stroke-width="44"/>
<path d="M565 296 Q640 258 748 300" stroke-width="43"/>
<path d="M402 552 Q490 530 585 598" stroke-width="40"/>
</g>
<ellipse cx="358" cy="332" rx="52" ry="63" fill="#65471b"/>
<path d="M578 318 Q628 300 678 318 Q684 420 628 420 Q574 418 578 318Z" fill="#65471b"/>
<path fill="#f1911f" d="M300 495 C330 495 340 520 345 560 C350 610 352 650 350 680 L600 612 C634 607 650 632 638 657 C632 676 612 684 590 690 L480 713 C500 720 510 745 505 770 C512 800 505 825 492 840 C495 870 480 905 450 920 C400 945 330 945 270 915 C215 885 185 830 188 775 C190 730 215 700 245 670 C265 640 270 590 268 540 C268 510 280 495 300 495 Z"/>
</g>
<!-- blush face -->
<circle cx="275" cy="564" r="104" fill="#ffcb4c"/>
<circle cx="209" cy="563" r="23" fill="#ff7892"/><circle cx="341" cy="563" r="23" fill="#ff7892"/>
<g fill="none" stroke="#65471b" stroke-width="10" stroke-linecap="round">
<path d="M221 550 Q240 522 259 550"/><path d="M291 550 Q310 522 329 550"/>
<path d="M226 590 Q275 632 324 590"/>
</g>
<!-- joy face moved out -->
<!-- siren -->
<path fill="#e0324b" d="M1044 297 L1059 141 Q1061 126 1076 126 L1190 126 Q1204 126 1206 141 L1222 297Z"/>
<rect x="1030" y="294" width="205" height="38" rx="8" fill="#9aaab4"/>
<circle cx="1133" cy="210" r="57" fill="#cb2a41"/>
<path fill="#f6b3c0" d="M1133.0 142.0 L1142.6 186.9 L1181.1 161.9 L1156.1 200.4 L1201.0 210.0 L1156.1 219.6 L1181.1 258.1 L1142.6 233.1 L1133.0 278.0 L1123.4 233.1 L1084.9 258.1 L1109.9 219.6 L1065.0 210.0 L1109.9 200.4 L1084.9 161.9 L1123.4 186.9Z"/>
<circle cx="1133" cy="210" r="16" fill="#fbd5dc"/>
<!-- pointing hand -->
<path fill="#ffdb5e" d="M1019 542 C1019 500 1035 478 1057 468 L1131 434 L1196 405 C1222 396 1238 410 1230 428 C1226 440 1212 448 1196 453 L1143 471 L1143 476 L1328 476 C1352 478 1352 497 1352 498 C1352 518 1330 519 1328 519 L1224 519 C1228 530 1228 540 1222 548 C1226 562 1222 575 1212 582 C1214 598 1210 610 1200 618 C1198 635 1188 645 1172 648 C1150 654 1110 654 1085 640 C1045 620 1019 590 1019 542 Z"/>
<!-- greek flag -->
<clipPath id="grc"><rect x="420" y="733" width="275" height="197" rx="22"/></clipPath>
<g clip-path="url(#grc)">
<rect x="420" y="733" width="275" height="197" fill="#fff"/>
<g fill="#1563b2">
<rect x="420" y="733" width="275" height="21.9"/><rect x="420" y="776.8" width="275" height="21.9"/><rect x="420" y="820.6" width="275" height="21.9"/><rect x="420" y="864.3" width="275" height="21.9"/><rect x="420" y="908.1" width="275" height="21.9"/>
<rect x="420" y="733" width="110" height="109.5"/>
</g>
<rect x="464" y="733" width="22" height="109.5" fill="#fff"/><rect x="420" y="776.8" width="110" height="21.9" fill="#fff"/>
</g>
<!-- EU flag -->
<rect x="750" y="743" width="247" height="177" rx="22" fill="#0b3b9c"/>
<g fill="#ffcc00" id="eustars">
<circle cx="873" cy="775" r="6.5"/><circle cx="901.5" cy="782.6" r="6.5"/><circle cx="922.4" cy="803.5" r="6.5"/><circle cx="930" cy="832" r="6.5"/><circle cx="922.4" cy="860.5" r="6.5"/><circle cx="901.5" cy="881.4" r="6.5"/><circle cx="873" cy="889" r="6.5"/><circle cx="844.5" cy="881.4" r="6.5"/><circle cx="823.6" cy="860.5" r="6.5"/><circle cx="816" cy="832" r="6.5"/><circle cx="823.6" cy="803.5" r="6.5"/><circle cx="844.5" cy="782.6" r="6.5"/>
</g>
</g>
<g transform="translate(1445,440) scale(0.12352)">
<circle cx="507.5" cy="506" r="433" fill="#ffcb4c"/>
<g fill="none" stroke="#65471b" stroke-linecap="round" stroke-width="44">
<path d="M192 438 Q232 332 362 288"/><path d="M823 438 Q783 332 653 288"/>
</g>
<g fill="#65471b">
<path d="M272 492 C290 440 340 418 375 423 C420 428 455 470 468 508 C470 520 455 526 445 515 C420 488 395 482 365 482 C335 482 310 488 290 502 C280 507 268 502 272 492Z"/>
<path d="M743 492 C725 440 675 418 640 423 C595 428 560 470 547 508 C545 520 560 526 570 515 C595 488 620 482 650 482 C680 482 705 488 725 502 C735 507 747 502 743 492Z"/>
<path d="M315 588 Q507 640 700 588 C724 586 722 660 702 720 C676 802 590 853 507 853 C425 853 339 802 313 720 C293 660 291 586 315 588Z"/>
</g>
<path fill="#fff" d="M335 640 Q507 692 680 640 C670 690 600 727 507 727 C415 727 345 690 335 640Z"/>
<path fill="#5dadec" d="M272 488 C300 560 340 660 335 730 C330 800 280 850 215 846 C150 840 99 790 99 725 C99 650 220 540 272 488Z"/>
<path fill="#5dadec" d="M743 488 C715 560 675 660 680 730 C685 800 735 850 800 846 C865 840 916 790 916 725 C916 650 795 540 743 488Z"/>
</g>
</svg>
<svg width="1839" height="1012" viewBox="0 0 1839 1012">
<g stroke="#ededed" stroke-width="1.1" fill="none">
<path d="M1235.5 745.2 H1816"/><path d="M1235.5 812.3 H1816"/><path d="M1235.5 879.3 H1816"/>
</g>
<path d="M1234.5 946.7 H1816" stroke="#d9dcef" stroke-width="1.2" fill="none"/>
<g font-size="10.8" fill="#666" text-anchor="end">
<text x="1223.6" y="749.6">15K</text><text x="1223.6" y="816.6">10K</text><text x="1223.6" y="883.8">5K</text><text x="1223.6" y="950.4">0</text>
</g>
<rect x="1237.00" y="839.4" width="21.73" height="107.0" fill="#55c9e4"/>
<rect x="1235.00" y="946.4" width="1.2" height="7.5" fill="#d9dcef"/>
<text transform="translate(1251.7,986.0) rotate(-90)" font-size="10.7" fill="#6b6b6b">12am</text>
<rect x="1261.12" y="880.8" width="21.73" height="65.6" fill="#55c9e4"/>
<rect x="1259.12" y="946.4" width="1.2" height="7.5" fill="#d9dcef"/>
<text transform="translate(1275.8,986.0) rotate(-90)" font-size="10.7" fill="#6b6b6b">1am</text>
<rect x="1285.25" y="902.0" width="21.73" height="44.4" fill="#55c9e4"/>
<rect x="1283.25" y="946.4" width="1.2" height="7.5" fill="#d9dcef"/>
<text transform="translate(1299.9,986.0) rotate(-90)" font-size="10.7" fill="#6b6b6b">2am</text>
<rect x="1309.38" y="911.0" width="21.73" height="35.4" fill="#55c9e4"/>
<rect x="1307.38" y="946.4" width="1.2" height="7.5" fill="#d9dcef"/>
<text transform="translate(1324.0,986.0) rotate(-90)" font-size="10.7" fill="#6b6b6b">3am</text>
<rect x="1333.50" y="910.0" width="21.73" height="36.4" fill="#55c9e4"/>
<rect x="1331.50" y="946.4" width="1.2" height="7.5" fill="#d9dcef"/>
<text transform="translate(1348.2,986.0) rotate(-90)" font-size="10.7" fill="#6b6b6b">4am</text>
<rect x="1357.62" y="909.2" width="21.73" height="37.2" fill="#55c9e4"/>
<rect x="1355.62" y="946.4" width="1.2" height="7.5" fill="#d9dcef"/>
<text transform="translate(1372.3,986.0) rotate(-90)" font-size="10.7" fill="#6b6b6b">5am</text>
<rect x="1381.75" y="893.6" width="21.73" height="52.8" fill="#55c9e4"/>
<rect x="1379.75" y="946.4" width="1.2" height="7.5" fill="#d9dcef"/>
<text transform="translate(1396.4,986.0) rotate(-90)" font-size="10.7" fill="#6b6b6b">6am</text>
<rect x="1405.88" y="866.2" width="21.73" height="80.2" fill="#55c9e4"/>
<rect x="1403.88" y="946.4" width="1.2" height="7.5" fill="#d9dcef"/>
<text transform="translate(1420.5,986.0) rotate(-90)" font-size="10.7" fill="#6b6b6b">7am</text>
<rect x="1430.00" y="813.3" width="21.73" height="133.1" fill="#55c9e4"/>
<rect x="1428.00" y="946.4" width="1.2" height="7.5" fill="#d9dcef"/>
<text transform="translate(1444.7,986.0) rotate(-90)" font-size="10.7" fill="#6b6b6b">8am</text>
<rect x="1454.12" y="783.5" width="21.73" height="162.9" fill="#55c9e4"/>
<rect x="1452.12" y="946.4" width="1.2" height="7.5" fill="#d9dcef"/>
<text transform="translate(1468.8,986.0) rotate(-90)" font-size="10.7" fill="#6b6b6b">9am</text>
<rect x="1478.25" y="762.3" width="21.73" height="184.1" fill="#55c9e4"/>
<rect x="1476.25" y="946.4" width="1.2" height="7.5" fill="#d9dcef"/>
<text transform="translate(1492.9,986.0) rotate(-90)" font-size="10.7" fill="#6b6b6b">10am</text>
<rect x="1502.38" y="771.3" width="21.73" height="175.1" fill="#55c9e4"/>
<rect x="1500.38" y="946.4" width="1.2" height="7.5" fill="#d9dcef"/>
<text transform="translate(1517.0,986.0) rotate(-90)" font-size="10.7" fill="#6b6b6b">11am</text>
<rect x="1526.50" y="764.0" width="21.73" height="182.4" fill="#55c9e4"/>
<rect x="1524.50" y="946.4" width="1.2" height="7.5" fill="#d9dcef"/>
<text transform="translate(1541.2,986.0) rotate(-90)" font-size="10.7" fill="#6b6b6b">12pm</text>
<rect x="1550.62" y="760.2" width="21.73" height="186.2" fill="#55c9e4"/>
<rect x="1548.62" y="946.4" width="1.2" height="7.5" fill="#d9dcef"/>
<text transform="translate(1565.3,986.0) rotate(-90)" font-size="10.7" fill="#6b6b6b">1pm</text>
<rect x="1574.75" y="760.9" width="21.73" height="185.5" fill="#55c9e4"/>
<rect x="1572.75" y="946.4" width="1.2" height="7.5" fill="#d9dcef"/>
<text transform="translate(1589.4,986.0) rotate(-90)" font-size="10.7" fill="#6b6b6b">2pm</text>
<rect x="1598.88" y="780.3" width="21.73" height="166.1" fill="#55c9e4"/>
<rect x="1596.88" y="946.4" width="1.2" height="7.5" fill="#d9dcef"/>
<text transform="translate(1613.5,986.0) rotate(-90)" font-size="10.7" fill="#6b6b6b">3pm</text>
<rect x="1623.00" y="769.9" width="21.73" height="176.5" fill="#55c9e4"/>
<rect x="1621.00" y="946.4" width="1.2" height="7.5" fill="#d9dcef"/>
<text transform="translate(1637.7,986.0) rotate(-90)" font-size="10.7" fill="#6b6b6b">4pm</text>
<rect x="1647.12" y="776.9" width="21.73" height="169.5" fill="#55c9e4"/>
<rect x="1645.12" y="946.4" width="1.2" height="7.5" fill="#d9dcef"/>
<text transform="translate(1661.8,986.0) rotate(-90)" font-size="10.7" fill="#6b6b6b">5pm</text>
<rect x="1671.25" y="728.2" width="21.73" height="218.2" fill="#55c9e4"/>
<rect x="1669.25" y="946.4" width="1.2" height="7.5" fill="#d9dcef"/>
<text transform="translate(1685.9,986.0) rotate(-90)" font-size="10.7" fill="#6b6b6b">6pm</text>
<rect x="1695.38" y="767.1" width="21.73" height="179.3" fill="#55c9e4"/>
<rect x="1693.38" y="946.4" width="1.2" height="7.5" fill="#d9dcef"/>
<text transform="translate(1710.0,986.0) rotate(-90)" font-size="10.7" fill="#6b6b6b">7pm</text>
<rect x="1719.50" y="764.0" width="21.73" height="182.4" fill="#55c9e4"/>
<rect x="1717.50" y="946.4" width="1.2" height="7.5" fill="#d9dcef"/>
<text transform="translate(1734.2,986.0) rotate(-90)" font-size="10.7" fill="#6b6b6b">8pm</text>
<rect x="1743.62" y="783.5" width="21.73" height="162.9" fill="#55c9e4"/>
<rect x="1741.62" y="946.4" width="1.2" height="7.5" fill="#d9dcef"/>
<text transform="translate(1758.3,986.0) rotate(-90)" font-size="10.7" fill="#6b6b6b">9pm</text>
<rect x="1767.75" y="799.8" width="21.73" height="146.6" fill="#55c9e4"/>
<rect x="1765.75" y="946.4" width="1.2" height="7.5" fill="#d9dcef"/>
<text transform="translate(1782.4,986.0) rotate(-90)" font-size="10.7" fill="#6b6b6b">10pm</text>
<rect x="1791.88" y="812.7" width="21.73" height="133.7" fill="#55c9e4"/>
<rect x="1789.88" y="946.4" width="1.2" height="7.5" fill="#d9dcef"/>
<text transform="translate(1806.5,986.0) rotate(-90)" font-size="10.7" fill="#6b6b6b">11pm</text>
<rect x="1814.00" y="946.4" width="1.2" height="7.5" fill="#d9dcef"/>
</svg>
</div>
</body>
</html>
